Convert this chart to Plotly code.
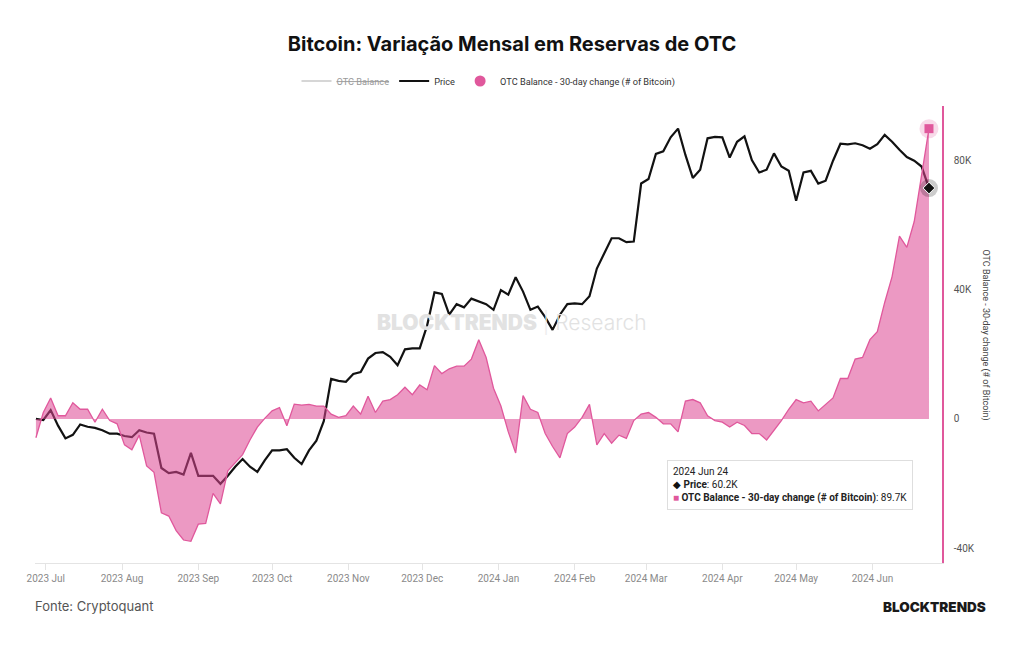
import math
import pandas as pd
import plotly.graph_objects as go

# ---------------- data ----------------
dates = pd.date_range("2023-06-27", periods=122, freq="3D")

price_k = [
    30.7, 30.6, 31.5, 30.1, 29.0, 29.3, 30.2, 30.0, 29.9, 29.7,
    29.4, 29.4, 29.2, 29.1, 29.7, 29.5, 29.4, 26.6, 26.2, 26.3,
    26.1, 27.8, 26.0, 26.0, 26.0, 25.4, 26.0, 26.7, 27.3, 26.7,
    26.3, 27.2, 28.0, 28.0, 28.1, 27.4, 26.9, 28.0, 28.8, 30.5,
    34.5, 34.3, 34.2, 35.0, 35.2, 36.6, 37.2, 37.3, 36.8, 35.9,
    37.6, 37.7, 37.7, 40.3, 44.4, 44.2, 41.6, 42.9, 42.5, 43.6,
    43.2, 42.9, 42.2, 44.7, 44.1, 46.4, 44.5, 42.2, 42.6, 41.3,
    39.8, 41.6, 42.9, 43.0, 42.9, 43.9, 47.6, 49.8, 52.0, 52.0,
    51.4, 51.5, 61.0, 61.8, 66.5, 67.0, 69.8, 71.6, 66.3, 62.0,
    63.5, 69.6, 69.9, 69.8, 65.8, 68.9, 70.0, 65.3, 63.0, 63.5,
    66.6, 64.1, 63.3, 58.0, 63.0, 63.3, 61.0, 61.5, 65.2, 68.5,
    68.4, 68.6, 68.2, 67.5, 68.4, 70.3, 68.9, 67.3, 65.9, 65.2,
    64.1, 60.2,
]

otc_change_k = [
    -5.8, 2.0, 6.5, 1.0, 1.0, 5.0, 3.0, 3.0, -1.0, 3.0,
    -0.5, -1.5, -8.0, -9.5, -5.0, -14.5, -16.5, -29.0, -30.0, -34.5,
    -37.4, -37.8, -32.5, -32.3, -23.0, -26.2, -16.0, -13.5, -11.0, -6.5,
    -2.5, 0.2, 2.5, 3.5, -2.1, 4.6, 4.3, 4.5, 4.0, 4.0,
    1.5, 0.5, 1.0, 4.0, 1.5, 7.0, 2.0, 5.5, 6.0, 7.5,
    9.8, 7.5, 10.5, 9.0, 16.5, 14.0, 15.5, 16.3, 16.3, 18.5,
    24.5, 19.0, 9.5, 4.0, -4.0, -10.5, 7.2, 3.0, 2.0, -4.5,
    -8.5, -12.0, -4.5, -2.5, 0.5, 4.5, -8.0, -4.5, -7.5, -5.0,
    -6.0, -0.5, 1.5, 2.0, 0.5, -1.5, -1.5, -4.0, 5.5, 6.0,
    5.0, 1.0, -0.5, -1.0, -2.5, -1.0, -2.0, -4.5, -4.5, -6.5,
    -3.5, -0.5, 3.0, 6.0, 5.0, 5.5, 2.5, 4.5, 6.5, 12.5,
    12.5, 18.5, 19.0, 24.5, 27.0, 36.0, 44.0, 56.5, 53.0, 61.0,
    75.0, 89.7,
]

month_ticks = pd.date_range("2023-07-01", "2024-06-01", freq="MS")
otc_tick_vals = [-40, 0, 40, 80]
otc_tick_text = ["-40K", "0", "40K", "80K"]

# ---------------- styling ----------------
PINK_LINE = "#e0589c"
PINK_FILL = "rgba(221, 70, 145, 0.55)"
PRICE_RANGE = [math.log10(20.16), math.log10(76.48)]
OTC_RANGE = [-44.5, 96.7]

fig = go.Figure()

# Price (hidden log axis)
fig.add_trace(go.Scatter(
    x=dates, y=price_k, mode="lines", yaxis="y",
    line=dict(color="#121212", width=2.2), showlegend=False, hoverinfo="skip"))

# OTC 30-day change (area)
fig.add_trace(go.Scatter(
    x=dates, y=otc_change_k, mode="lines", yaxis="y2", fill="tozeroy",
    fillcolor=PINK_FILL, line=dict(color=PINK_LINE, width=1.3),
    showlegend=False, hoverinfo="skip"))

# last-point highlight markers
fig.add_trace(go.Scatter(
    x=[dates[-1]], y=[otc_change_k[-1]], mode="markers", yaxis="y2",
    marker=dict(size=19, color="rgba(224,88,156,0.22)"), showlegend=False, hoverinfo="skip"))
fig.add_trace(go.Scatter(
    x=[dates[-1]], y=[otc_change_k[-1]], mode="markers", yaxis="y2",
    marker=dict(symbol="square", size=9, color=PINK_LINE), showlegend=False, hoverinfo="skip"))
fig.add_trace(go.Scatter(
    x=[dates[-1]], y=[price_k[-1]], mode="markers", yaxis="y3",
    marker=dict(size=18, color="rgba(0,0,0,0.2)"), showlegend=False, hoverinfo="skip"))
fig.add_trace(go.Scatter(
    x=[dates[-1]], y=[price_k[-1]], mode="markers", yaxis="y3",
    marker=dict(symbol="diamond", size=9, color="#121212", line=dict(color="white", width=1)),
    showlegend=False, hoverinfo="skip"))

# legend entries
fig.add_trace(go.Scatter(
    x=[None], y=[None], mode="lines", yaxis="y",
    line=dict(color="#d6d6d6", width=2),
    name="<span style='color:#9a9a9a'><s>OTC Balance</s></span>"))
fig.add_trace(go.Scatter(
    x=[None], y=[None], mode="lines", yaxis="y",
    line=dict(color="#121212", width=2), name="Price"))
fig.add_trace(go.Scatter(
    x=[None], y=[None], mode="markers", yaxis="y",
    marker=dict(color=PINK_LINE, size=11), name="OTC Balance - 30-day change (# of Bitcoin)"))

L, R, T, B = 35, 82, 106, 82
W, H = 1024, 645
pw, ph = W - L - R, H - T - B


def px_x(x):
    return (x - L) / pw


def px_y(y):
    return (H - B - y) / ph


fig.update_layout(
    width=W, height=H,
    margin=dict(l=L, r=R, t=T, b=B),
    paper_bgcolor="white", plot_bgcolor="white",
    font=dict(family="Roboto, sans-serif", color="#444"),
    title=dict(
        text="<b>Bitcoin: Variação Mensal em Reservas de OTC</b>",
        x=0.5, xref="container", xanchor="center",
        y=1 - 44 / H, yref="container", yanchor="middle",
        font=dict(family="Inter, Roboto, sans-serif", size=20, color="#111")),
    showlegend=True,
    legend=dict(orientation="h", x=0.5, xanchor="center", y=px_y(81), yanchor="middle",
                font=dict(size=9.2, color="#333"), bgcolor="rgba(0,0,0,0)",
                itemwidth=30, traceorder="normal"),
    xaxis=dict(type="date", range=["2023-06-26 15:00", "2024-06-29 07:00"],
               showgrid=False, zeroline=False, showline=True, linecolor="#e4e4e4", linewidth=1,
               ticks="outside", ticklen=6, tickcolor="#e4e4e4",
               tickvals=month_ticks, tickformat="%Y %b",
               tickfont=dict(size=10, color="#8a8a8a")),
    yaxis=dict(type="log", range=PRICE_RANGE, visible=False),
    yaxis2=dict(overlaying="y", side="right", range=OTC_RANGE,
                showgrid=False, zeroline=False, showline=True,
                linecolor=PINK_LINE, linewidth=1.5, ticks="",
                tickvals=otc_tick_vals, ticktext=otc_tick_text,
                ticklabelstandoff=8,
                tickfont=dict(size=10, color="#555")),
    yaxis3=dict(overlaying="y", type="log", range=PRICE_RANGE, visible=False),
    hovermode=False,
)

tooltip = (
    f"{dates[-1].strftime('%Y %b %d')}<br>"
    f"<span style='color:#121212'>◆</span> <b>Price</b>: {price_k[-1]:.1f}K<br>"
    f"<span style='color:{PINK_LINE}'>■</span> <b>OTC Balance - 30-day change (# of Bitcoin)</b>: "
    f"{otc_change_k[-1]:.1f}K"
)

annotations = [
    # right axis title
    dict(text="OTC Balance - 30-day change (# of Bitcoin)", xref="paper", yref="paper",
         x=px_x(985), y=0.5, xanchor="center", yanchor="middle", textangle=90,
         showarrow=False, font=dict(size=9, color="#444")),
    # watermark
    dict(text="<span style='font-weight:900'>BLOCKTRENDS</span> "
              "<span style='color:#ececec;font-weight:300'>|</span> "
              "<span style='font-weight:300'>Research</span>",
         xref="paper", yref="paper", x=px_x(512), y=px_y(322),
         xanchor="center", yanchor="middle", showarrow=False,
         font=dict(family="Inter, Roboto, sans-serif", size=21, color="#e2e2e2")),
    # tooltip box
    dict(text=tooltip, xref="paper", yref="paper", x=px_x(667), y=px_y(460),
         xanchor="left", yanchor="top", align="left", showarrow=False,
         bgcolor="white", bordercolor="#dedede", borderwidth=1, borderpad=5,
         font=dict(size=10, color="#222")),
    # footer
    dict(text="Fonte: Cryptoquant", xref="paper", yref="paper", x=px_x(33), y=px_y(606),
         xanchor="left", yanchor="middle", showarrow=False,
         font=dict(family="Inter, Roboto, sans-serif", size=13, color="#555")),
    dict(text="BLOCKTRENDS", xref="paper", yref="paper", x=px_x(988), y=px_y(607),
         xanchor="right", yanchor="middle", showarrow=False,
         font=dict(family="Inter, Roboto, sans-serif", size=13.5, color="#1a1a1a", weight=900)),
]
fig.update_layout(annotations=annotations)

fig.write_html("out.html")
